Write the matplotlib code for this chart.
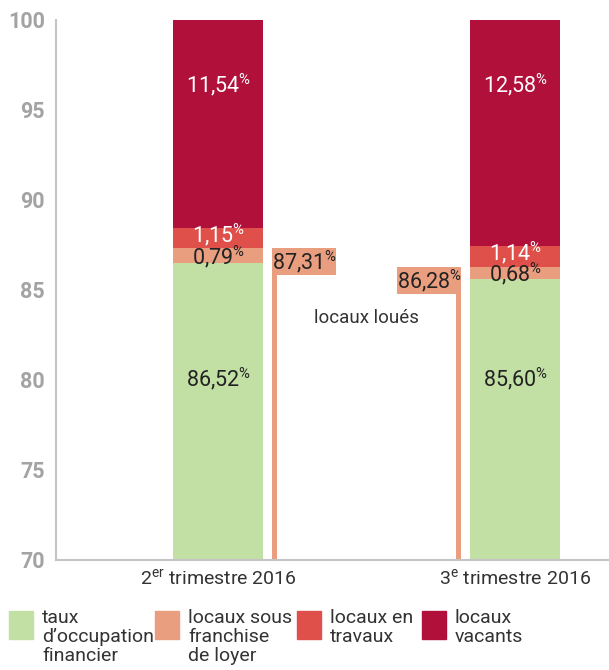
import matplotlib.pyplot as plt
from matplotlib.patches import Rectangle

plt.rcParams['font.family'] = ['Roboto', 'DejaVu Sans']
plt.rcParams['mathtext.fontset'] = 'custom'
plt.rcParams['mathtext.rm'] = 'Roboto'

periodes = ["2$^{\\mathrm{er}}$ trimestre 2016", "3$^{\\mathrm{e}}$ trimestre 2016"]
occupation = [86.52, 85.60]
franchise = [0.79, 0.68]
travaux = [1.15, 1.14]
vacants = [11.54, 12.58]
loues = [87.31, 86.28]
legende = ["taux\nd\u2019occupation\nfinancier", "locaux sous\nfranchise\nde loyer",
           "locaux en\ntravaux", "locaux\nvacants"]
yticks = [70, 75, 80, 85, 90, 95, 100]

couleurs = ["#c2dfa4", "#e99e80", "#e0504a", "#b0103a"]

fig = plt.figure(figsize=(6.09, 6.70), dpi=100)
ax = fig.add_axes([56/609, 110/670, 553/609, 540/670])

x = [0, 1]
w = 0.303
series = [occupation, franchise, travaux, vacants]

# empilement depuis 0 (l'axe commence a 70)
bottom = [0, 0]
for s, c in zip(series, couleurs):
    ax.bar(x, s, bottom=bottom, width=w, color=c, linewidth=0)
    bottom = [b + v for b, v in zip(bottom, s)]


def pct(v):
    return ("%.2f" % v).replace(".", ",") + "$^{\\%}$"


fs = 15.5
for i in x:
    b0 = occupation[i]
    ax.text(i, 80.1, pct(occupation[i]), ha='center', va='center', fontsize=fs, color='#222222')
    ax.text(i, b0 + franchise[i] / 2 - 0.05, pct(franchise[i]), ha='center', va='center', fontsize=fs, color='#222222')
    b1 = b0 + franchise[i]
    ax.text(i, b1 + travaux[i] / 2 + 0.2, pct(travaux[i]), ha='center', va='center', fontsize=fs, color='white')
    ax.text(i, 96.4, pct(vacants[i]), ha='center', va='center', fontsize=fs, color='white')

# locaux loues : barre fine + etiquette
dx = 0.190
tw = 0.0168
bw = 0.215
pos = [x[0] + dx, x[1] - dx]
for i, (p, v) in enumerate(zip(pos, loues)):
    ax.bar(p, v, width=tw, color=couleurs[1], linewidth=0)
    if i == 0:
        left = p - tw / 2
    else:
        left = p + tw / 2 - bw
    ax.bar(left, 1.5, bottom=v - 1.5, width=bw, align='edge', color=couleurs[1], linewidth=0)
    ax.text(left + bw / 2, v - 0.75, pct(v), ha='center', va='center', fontsize=fs, color='#222222')

ax.text((366 - 56) / 553, (670 - 318 - 110) / 540, "locaux lou\u00e9s", transform=ax.transAxes,
        ha='center', va='center', fontsize=13.5, color='#333333')

ax.set_xlim(-0.546, 1.316)
ax.set_ylim(70, 100)
ax.set_yticks(yticks)
ax.set_yticklabels([str(t) for t in yticks], fontsize=15.5, color='#a3a3a3', fontweight='bold')
ax.set_xticks(x)
ax.set_xticklabels(periodes, fontsize=14, color='#333333')
ax.tick_params(axis='both', length=0)
ax.tick_params(axis='y', pad=8)
ax.tick_params(axis='x', pad=6)
for s in ['top', 'right']:
    ax.spines[s].set_visible(False)
for s in ['left', 'bottom']:
    ax.spines[s].set_color('#c4c4c4')
    ax.spines[s].set_linewidth(1.5)

# legende
carres = [9, 155, 297, 422]
for xc, c, t in zip(carres, couleurs, legende):
    fig.patches.append(Rectangle((xc / 609, (670 - 639) / 670), 24 / 609, 28 / 670,
                                 transform=fig.transFigure, color=c))
    fig.text((xc + 33) / 609, (670 - 609) / 670, t, ha='left', va='top', fontsize=14,
             color='#333333', linespacing=1.08)

fig.savefig('out.png', dpi=100)
